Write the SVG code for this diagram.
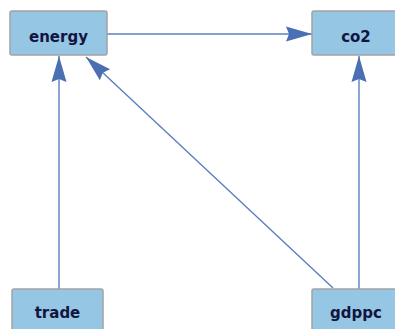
<svg xmlns="http://www.w3.org/2000/svg" width="395" height="329" viewBox="0 0 395 329">
<style>
.node rect{fill:#95c6e4;stroke:#a3a3a3;stroke-width:1.5}
.node text{font-family:"DejaVu Sans",Verdana,sans-serif;font-weight:bold;font-size:15px;fill:#121540;text-anchor:middle}
.edge{stroke:#5a80bf;stroke-width:1.4;fill:none;marker-end:url(#arr)}
</style>
<defs>
<marker id="arr" viewBox="0 0 28 18" refX="27" refY="9" markerWidth="28" markerHeight="18" markerUnits="userSpaceOnUse" orient="auto">
<path d="M27,9 L1,1.5 L4,9 L1,16.5 Z" fill="#4a6fb2"/>
</marker>
</defs>
<rect width="395" height="329" fill="#ffffff"/>
<g id="connectors">
<line class="edge" x1="107" y1="34" x2="312" y2="34"/>
<line class="edge" x1="59" y1="289" x2="59" y2="56"/>
<line class="edge" x1="359" y1="289" x2="359" y2="56"/>
<line class="edge" x1="333" y1="288" x2="86" y2="57"/>
</g>
<g id="energy" class="node"><rect x="10" y="11" width="97" height="44" rx="2"/><text x="58.5" y="41.5">energy</text></g>
<g id="co2" class="node"><rect x="312" y="11" width="90" height="44" rx="2"/><text x="356" y="41.5">co2</text></g>
<g id="trade" class="node"><rect x="12" y="289" width="91" height="44" rx="2"/><text x="57.5" y="318">trade</text></g>
<g id="gdppc" class="node"><rect x="312" y="289" width="90" height="44" rx="2"/><text x="356" y="318">gdppc</text></g>
</svg>
